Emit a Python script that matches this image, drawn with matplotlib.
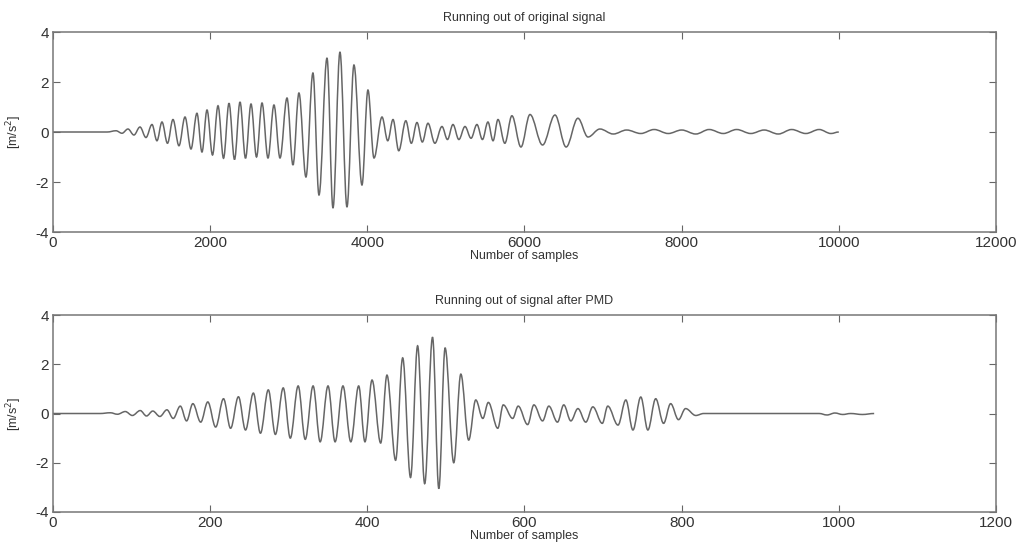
import matplotlib.pyplot as plt
from matplotlib.path import Path
from matplotlib.patches import PathPatch

plt.rcParams['font.family'] = ['Liberation Sans', 'DejaVu Sans']
plt.rcParams['axes.unicode_minus'] = False

# turning points of the original record: sample index and acceleration
orig_samples = [0, 690, 802, 878, 954, 1030, 1107, 1183, 1260, 1323, 1387, 1457,
                1527, 1603, 1680, 1756, 1832, 1896, 1960, 2030, 2100, 2170, 2240,
                2310, 2380, 2450, 2520, 2590, 2660, 2736, 2812, 2889, 2978, 3054,
                3130, 3219, 3308, 3385, 3487, 3563, 3652, 3741, 3830, 3932, 4008,
                4085, 4187, 4260, 4327, 4400, 4490, 4560, 4632, 4700, 4772, 4860,
                4950, 5020, 5090, 5165, 5243, 5320, 5395, 5465, 5535, 5600, 5663,
                5750, 5840, 5955, 6070, 6230, 6388, 6530, 6680, 6808, 6960, 7130,
                7300, 7480, 7650, 7830, 8000, 8180, 8350, 8530, 8700, 8880, 9050,
                9230, 9400, 9580, 9750, 9900, 10000]
orig_values = [0, 0, 0.05, -0.05, 0.12, -0.12, 0.2, -0.22, 0.3, -0.35, 0.4, -0.45,
               0.5, -0.55, 0.6, -0.68, 0.75, -0.8, 0.88, -0.92, 1.05, -1.05, 1.15,
               -1.1, 1.2, -1.05, 1.12, -1.0, 1.16, -1.04, 1.08, -1.04, 1.36, -1.32,
               1.56, -1.8, 2.36, -2.52, 2.96, -3.04, 3.2, -3.0, 2.68, -2.12, 1.68,
               -1.04, 0.6, -0.35, 0.5, -0.75, 0.45, -0.45, 0.38, -0.4, 0.35, -0.45,
               0.22, -0.3, 0.3, -0.3, 0.22, -0.25, 0.3, -0.3, 0.4, -0.35, 0.5,
               -0.45, 0.65, -0.6, 0.7, -0.52, 0.68, -0.6, 0.55, -0.2, 0.12, -0.08,
               0.08, -0.06, 0.1, -0.06, 0.08, -0.08, 0.1, -0.06, 0.1, -0.06, 0.08,
               -0.08, 0.1, -0.06, 0.1, -0.06, 0.0]

# turning points after PMD
pmd_samples = [0, 60, 73, 82, 92, 101, 111, 119, 127, 136, 145, 153, 162, 170,
               178, 188, 197, 207, 217, 226, 236, 245, 255, 264, 274, 283, 293,
               302, 312, 321, 331, 340, 350, 359, 369, 379, 389, 397, 406, 417,
               425, 436, 445, 455, 464, 473, 483, 491, 499, 510, 519, 529, 538,
               547, 554, 566, 573, 585, 592, 604, 612, 623, 631, 642, 650, 659,
               668, 678, 687, 699, 706, 719, 729, 738, 748, 757, 767, 777, 786,
               796, 805, 818, 828, 975, 985, 995, 1005, 1015, 1030, 1045]
pmd_values = [0, 0, 0.03, -0.03, 0.08, -0.08, 0.12, -0.1, 0.1, -0.12, 0.15, -0.2,
              0.3, -0.3, 0.4, -0.35, 0.47, -0.55, 0.6, -0.6, 0.68, -0.67, 0.83,
              -0.8, 0.96, -0.85, 1.04, -1.0, 1.12, -1.05, 1.12, -1.15, 1.12, -1.15,
              1.12, -1.15, 1.12, -1.15, 1.36, -1.2, 1.56, -1.9, 2.26, -2.6, 2.75,
              -2.85, 3.1, -3.05, 2.66, -2.0, 1.6, -1.08, 0.55, -0.2, 0.45, -0.6,
              0.35, -0.2, 0.3, -0.45, 0.35, -0.3, 0.3, -0.35, 0.35, -0.3, 0.2,
              -0.35, 0.27, -0.4, 0.3, -0.47, 0.55, -0.67, 0.67, -0.67, 0.6, -0.4,
              0.4, -0.25, 0.2, -0.08, 0, 0, -0.06, 0.02, -0.04, 0, -0.04, 0]


def wave_path(xs, ys, k=0.36):
    # cubic segments with flat tangents at each turning point
    verts = [(xs[0], ys[0])]
    codes = [Path.MOVETO]
    for x0, y0, x1, y1 in zip(xs[:-1], ys[:-1], xs[1:], ys[1:]):
        dx = x1 - x0
        verts += [(x0 + k * dx, y0), (x1 - k * dx, y1), (x1, y1)]
        codes += [Path.CURVE4] * 3
    return Path(verts, codes)


fig = plt.figure(figsize=(10.19, 5.49), dpi=100)
ax1 = fig.add_axes([0.052, 0.5774, 0.9254, 0.3643])
ax2 = fig.add_axes([0.052, 0.0674, 0.9254, 0.3588])

panels = [
    (ax1, orig_samples, orig_values, 12000, 2000, 'Running out of original signal'),
    (ax2, pmd_samples, pmd_values, 1200, 200, 'Running out of signal after PMD'),
]

for ax, x, y, xmax, step, title in panels:
    ax.add_patch(PathPatch(wave_path(x, y), fill=False, edgecolor='#666666',
                           linewidth=1.1))
    ax.set_xlim(0, xmax)
    ax.set_ylim(-4, 4)
    ax.set_xticks(range(0, xmax + 1, step))
    ax.set_yticks([-4, -2, 0, 2, 4])
    ax.tick_params(direction='in', top=True, right=True, length=5, width=0.8,
                   color='#666666', labelsize=11, labelcolor='#333333', pad=3)
    for sp in ax.spines.values():
        sp.set_color('#777777')
        sp.set_linewidth(1.1)
    ax.set_title(title, fontsize=9, color='#333333', pad=8)
    ax.set_xlabel('Number of samples', fontsize=9, color='#333333', labelpad=0)
    ax.set_ylabel('[m/s$^2$]', fontsize=9, color='#333333', labelpad=8)

fig.savefig('out.png', dpi=100)
